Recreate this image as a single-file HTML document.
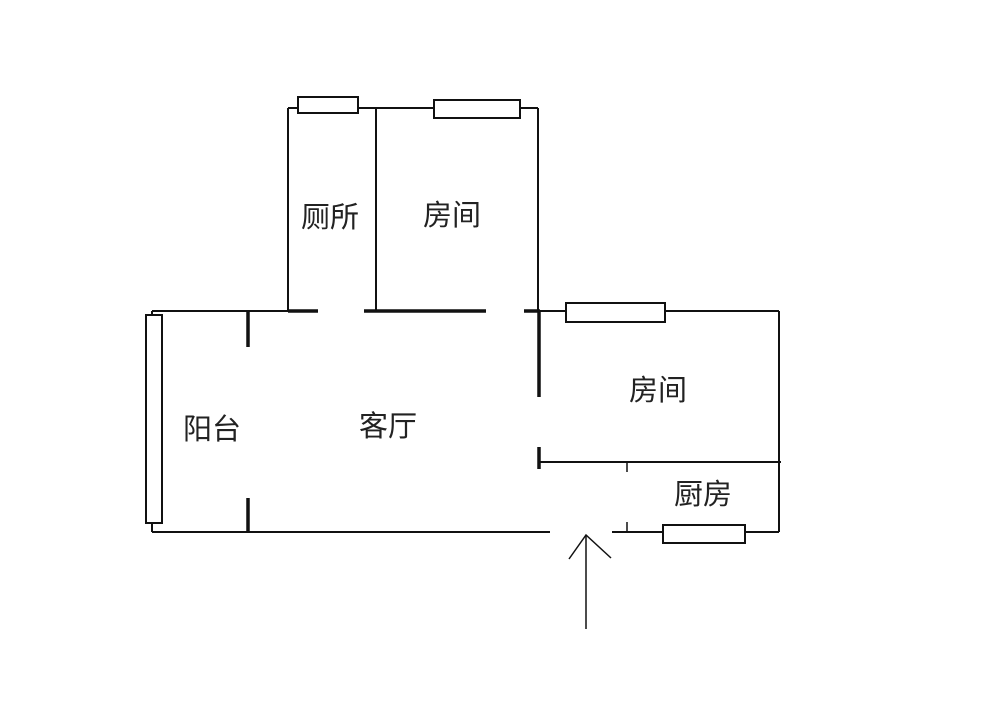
<!DOCTYPE html>
<html><head><meta charset="utf-8"><style>
html,body{margin:0;padding:0;background:#fff;}
svg{display:block}
text{font-family:"Liberation Sans","Noto Sans CJK SC","WenQuanYi Zen Hei",sans-serif;font-size:29px;fill:#222;}
</style></head><body>
<svg width="1000" height="714" viewBox="0 0 1000 714" xmlns="http://www.w3.org/2000/svg">
<g stroke="#111" fill="none" stroke-width="2">
<line x1="288" y1="108" x2="538" y2="108"/>
<line x1="288" y1="108" x2="288" y2="311"/>
<line x1="376" y1="108" x2="376" y2="311"/>
<line x1="538" y1="108" x2="538" y2="311"/>
<rect x="298" y="97" width="60" height="16" fill="#fff"/>
<rect x="434" y="100" width="86" height="18" fill="#fff"/>
<line x1="152" y1="311" x2="288" y2="311"/>
<line x1="288" y1="311" x2="318" y2="311" stroke-width="3.5"/>
<line x1="364" y1="311" x2="486" y2="311" stroke-width="3.5"/>
<line x1="524" y1="311" x2="540" y2="311" stroke-width="3.5"/>
<line x1="540" y1="311" x2="779" y2="311"/>
<line x1="779" y1="311" x2="779" y2="532"/>
<rect x="566" y="303" width="99" height="19" fill="#fff"/>
<line x1="539" y1="310" x2="539" y2="397" stroke-width="3.5"/>
<line x1="539" y1="447" x2="539" y2="469" stroke-width="3.5"/>
<line x1="540" y1="462" x2="781" y2="462"/>
<line x1="627" y1="462" x2="627" y2="472" stroke-width="1.5"/>
<line x1="627" y1="522" x2="627" y2="532" stroke-width="1.5"/>
<line x1="152" y1="532" x2="550" y2="532"/>
<line x1="612" y1="532" x2="779" y2="532"/>
<rect x="663" y="525" width="82" height="18" fill="#fff"/>
<line x1="152" y1="311" x2="152" y2="532"/>
<rect x="146" y="315" width="16" height="208" fill="#fff"/>
<line x1="248" y1="311" x2="248" y2="347" stroke-width="3.5"/>
<line x1="248" y1="498" x2="248" y2="532" stroke-width="3.5"/>
<line x1="586" y1="535" x2="586" y2="629" stroke-width="1.5"/>
<polyline points="569,559 586,535 611,558" stroke-width="1.5"/>
</g>
<text x="330" y="227" text-anchor="middle">厕所</text>
<text x="452" y="225" text-anchor="middle">房间</text>
<text x="658" y="400" text-anchor="middle">房间</text>
<text x="212" y="439" text-anchor="middle">阳台</text>
<text x="388" y="436" text-anchor="middle">客厅</text>
<text x="703" y="504" text-anchor="middle">厨房</text>
</svg>
</body></html>
